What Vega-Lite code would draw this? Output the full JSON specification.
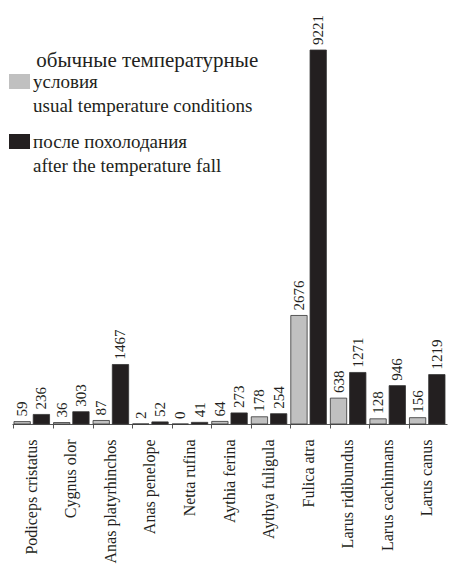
{
  "$schema": "https://vega.github.io/schema/vega-lite/v6.json",
  "width": 435,
  "height": 374,
  "padding": {"left": 12, "top": 50, "right": 4, "bottom": 156},
  "autosize": {"type": "none"},
  "background": "white",
  "config": {
    "view": {"stroke": null},
    "font": "Liberation Serif",
    "style": {"guide-label": {"lineHeight": 24}}
  },
  "data": {
    "values": [
      {"species": "Podiceps cristatus", "cond": "usual", "count": 59},
      {"species": "Podiceps cristatus", "cond": "after", "count": 236},
      {"species": "Cygnus olor", "cond": "usual", "count": 36},
      {"species": "Cygnus olor", "cond": "after", "count": 303},
      {"species": "Anas platyrhinchos", "cond": "usual", "count": 87},
      {"species": "Anas platyrhinchos", "cond": "after", "count": 1467},
      {"species": "Anas penelope", "cond": "usual", "count": 2},
      {"species": "Anas penelope", "cond": "after", "count": 52},
      {"species": "Netta rufina", "cond": "usual", "count": 0},
      {"species": "Netta rufina", "cond": "after", "count": 41},
      {"species": "Aythia ferina", "cond": "usual", "count": 64},
      {"species": "Aythia ferina", "cond": "after", "count": 273},
      {"species": "Aythya fuligula", "cond": "usual", "count": 178},
      {"species": "Aythya fuligula", "cond": "after", "count": 254},
      {"species": "Fulica atra", "cond": "usual", "count": 2676},
      {"species": "Fulica atra", "cond": "after", "count": 9221},
      {"species": "Larus ridibundus", "cond": "usual", "count": 638},
      {"species": "Larus ridibundus", "cond": "after", "count": 1271},
      {"species": "Larus cachinnans", "cond": "usual", "count": 128},
      {"species": "Larus cachinnans", "cond": "after", "count": 946},
      {"species": "Larus canus", "cond": "usual", "count": 156},
      {"species": "Larus canus", "cond": "after", "count": 1219}
    ]
  },
  "encoding": {
    "x": {
      "field": "species",
      "type": "nominal",
      "sort": null,
      "scale": {"paddingInner": 0.1, "paddingOuter": 0.05},
      "axis": {
        "title": null,
        "labelAngle": -90,
        "labelAlign": "right",
        "labelBaseline": "middle",
        "labelFont": "Liberation Serif",
        "labelFontSize": 16,
        "labelColor": "#231f20",
        "labelPadding": 11,
        "labelLineHeight": 16,
        "bandPosition": 0,
        "domainColor": "#555",
        "tickColor": "#555",
        "tickSize": 4,
        "grid": false
      }
    },
    "xOffset": {
      "field": "cond",
      "type": "nominal",
      "sort": ["usual", "after"],
      "scale": {"paddingInner": 0.15}
    },
    "y": {
      "field": "count",
      "type": "quantitative",
      "scale": {"domain": [0, 9221], "nice": false},
      "axis": null
    }
  },
  "layer": [
    {
      "mark": {"type": "bar", "stroke": "#333", "strokeWidth": 0.8},
      "encoding": {
        "color": {
          "field": "cond",
          "type": "nominal",
          "sort": ["usual", "after"],
          "scale": {"domain": ["usual", "after"], "range": ["#c0c0c0", "#231f20"]},
          "legend": {
            "orient": "none",
            "legendX": -2,
            "legendY": 0,
            "title": "\u200d\u00a0\u00a0\u00a0\u00a0\u00a0обычные температурные",
            "titleFont": "Liberation Serif",
            "titleFontSize": 21,
            "titleFontWeight": "normal",
            "titleColor": "#231f20",
            "titleLimit": 400,
            "titlePadding": 1,
            "symbolType": "M-1.4,-1L1.4,-1L1.4,1L-1.4,1Z",
            "symbolSize": 225,
            "symbolStrokeWidth": 0,
            "labelFont": "Liberation Serif",
            "labelFontSize": 19,
            "labelColor": "#231f20",
            "labelLimit": 300,
            "rowPadding": 16,
            "labelExpr": "datum.value == 'usual' ? ['условия', 'usual temperature conditions'] : ['после похолодания', 'after the temperature fall']"
          }
        }
      }
    },
    {
      "mark": {
        "type": "text",
        "angle": -90,
        "align": "left",
        "baseline": "middle",
        "dx": 5,
        "font": "Liberation Serif",
        "fontSize": 15,
        "color": "#231f20"
      },
      "encoding": {"text": {"field": "count", "type": "quantitative"}}
    }
  ]
}
